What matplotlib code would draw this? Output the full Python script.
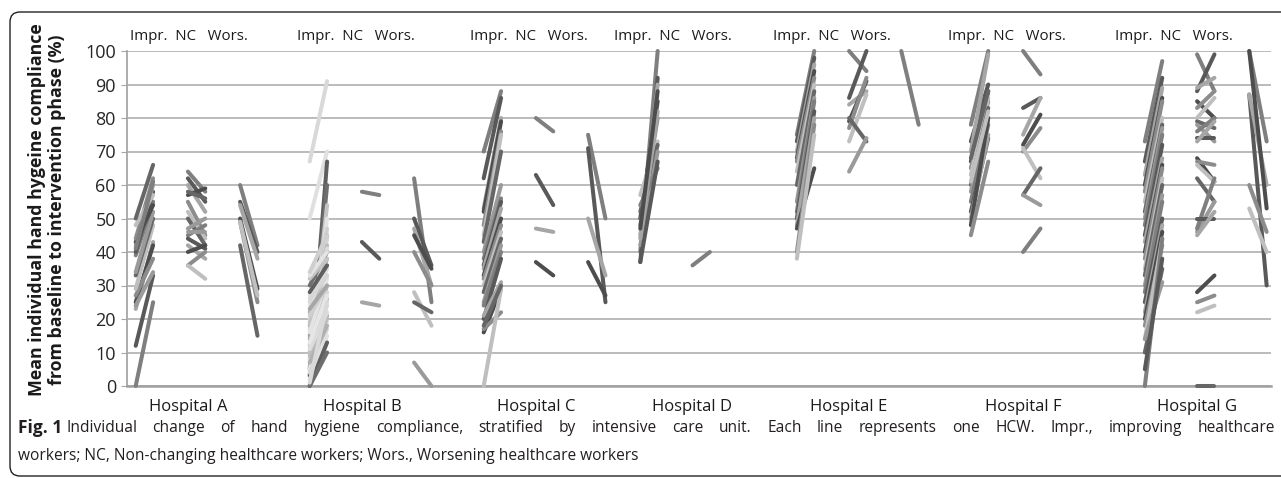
import matplotlib
matplotlib.use("Agg")
import matplotlib.pyplot as plt
from matplotlib.patches import FancyBboxPatch
from matplotlib.transforms import IdentityTransform

plt.rcParams['font.family'] = ['Open Sans', 'DejaVu Sans']

# hospitals and groups
hospitals = ['Hospital A', 'Hospital B', 'Hospital C', 'Hospital D',
             'Hospital E', 'Hospital F', 'Hospital G']
group_names = ['Impr.', 'NC', 'Wors.']

# (baseline, intervention) compliance per HCW
A_impr = [(0, 25), (12, 33), (23, 43), (25, 42), (27, 38), (29, 48), (33, 50), (34, 52),
          (39, 55), (40, 58), (42, 60), (43, 54), (44, 62), (48, 57), (50, 66), (24, 34), (41, 61)]
A_nc = [(64, 58), (62, 55), (60, 52), (57, 59), (55, 45), (52, 44), (50, 42), (47, 50),
        (45, 48), (44, 41), (42, 38), (40, 42), (36, 40), (36, 32), (58, 56), (46, 46)]
A_wors = [(60, 42), (55, 40), (54, 38), (50, 29), (49, 25), (49, 27), (42, 15)]

B_impr = [(67, 91), (50, 70), (3, 67), (5, 60), (8, 54), (10, 50), (12, 47), (15, 45),
          (17, 44), (18, 42), (20, 41), (22, 38), (24, 36), (25, 35), (27, 35), (28, 36),
          (30, 40), (32, 38), (33, 40), (34, 45), (14, 30), (12, 28), (10, 26), (8, 24),
          (6, 21), (5, 19), (4, 17), (2, 15), (0, 13), (0, 10), (19, 33), (16, 32),
          (21, 30), (23, 30), (26, 33), (9, 20), (11, 22), (7, 18), (13, 27), (1, 25)]
B_nc = [(58, 57), (43, 38), (25, 24)]
B_wors = [(62, 25), (50, 36), (47, 30), (45, 35), (40, 30), (28, 18), (25, 22), (7, 0)]

C_impr = [(70, 88), (62, 86), (53, 80), (52, 79), (48, 76), (45, 75), (43, 70), (40, 60),
          (38, 56), (36, 55), (35, 53), (33, 50), (32, 48), (30, 46), (28, 44), (25, 42),
          (24, 40), (20, 38), (21, 31), (16, 29), (17, 22), (0, 29), (18, 30)]
C_nc = [(80, 76), (63, 54), (47, 46), (37, 33)]
C_wors = [(75, 50), (71, 25), (50, 33), (37, 27)]

D_impr = [(40, 100), (37, 92), (45, 90), (50, 85), (48, 80), (57, 73), (52, 72), (42, 70),
          (54, 65), (37, 67), (44, 82), (47, 88)]
D_nc = [(36, 40)]
D_wors = []

E_impr = [(75, 100), (73, 98), (70, 96), (68, 94), (67, 92), (64, 90), (60, 88), (55, 86),
          (52, 85), (50, 82), (48, 80), (47, 65), (40, 78), (38, 75)]
E_nc = [(100, 94), (86, 100), (84, 88), (79, 91), (77, 92), (73, 87), (80, 73), (64, 74)]
E_wors = [(100, 78)]

F_impr = [(78, 100), (73, 90), (70, 99), (67, 88), (65, 85), (63, 86), (60, 83), (58, 80),
          (55, 78), (52, 74), (50, 75), (48, 80), (45, 67), (61, 82), (68, 88)]
F_nc = [(100, 93), (83, 86), (75, 86), (72, 81), (70, 77), (71, 62), (57, 65), (57, 54), (40, 47)]
F_wors = []

G_impr = [(73, 97), (67, 92), (63, 89), (60, 86), (58, 85), (55, 80), (52, 78), (50, 77),
          (48, 75), (45, 72), (43, 68), (40, 66), (38, 65), (35, 62), (33, 60), (30, 57),
          (28, 55), (25, 50), (22, 48), (20, 46), (18, 42), (14, 44), (10, 35), (14, 31),
          (0, 44), (5, 38)]
G_nc = [(99, 88), (88, 99), (89, 92), (85, 80), (83, 88), (80, 86), (79, 77), (78, 73),
        (76, 80), (74, 74), (73, 79), (68, 61), (67, 66), (66, 61), (62, 55), (46, 55),
        (47, 62), (50, 50), (45, 52), (28, 33), (25, 27), (22, 24), (0, 0)]
G_wors = [(100, 73), (87, 30), (87, 60), (100, 53), (60, 46), (53, 40)]

data = [[A_impr, A_nc, A_wors], [B_impr, B_nc, B_wors], [C_impr, C_nc, C_wors],
        [D_impr, D_nc, D_wors], [E_impr, E_nc, E_wors], [F_impr, F_nc, F_wors],
        [G_impr, G_nc, G_wors]]

caption1 = ('Individual change of hand hygiene compliance, stratified by intensive care unit. '
            'Each line represents one HCW. Impr., improving healthcare')
caption2 = 'workers; NC, Non-changing healthcare workers; Wors., Worsening healthcare workers'

# category slot where each hospital starts, and where its header text begins
hosp_x = [0, 10, 20, 29, 38, 48, 58]
header_x = [-0.33, 9.25, 19.2, 27.5, 36.6, 46.7, 56.3]

grays = ['#7f7f7f', '#595959', '#a6a6a6', '#4d4d4d', '#8c8c8c', '#bfbfbf', '#666666', '#9a9a9a']
light_grays = ['#d9d9d9', '#e0e0e0', '#5f5f5f', '#6e6e6e', '#c4c4c4', '#e3e3e3', '#cfcfcf',
               '#a6a6a6', '#d6d6d6', '#bdbdbd', '#dcdcdc', '#b0b0b0', '#e6e6e6']

W, H = 1281, 478
fig = plt.figure(figsize=(W / 100, H / 100), dpi=100)
ax = fig.add_axes([127 / W, 1 - 386 / H, (1271 - 127) / W, (386 - 51) / H])

for i, hosp in enumerate(data):
    for g, pairs in enumerate(hosp):
        x0 = hosp_x[i] + 3 * g
        pal = light_grays if (i == 1 and g == 0) else grays
        for k, (b, v) in enumerate(pairs):
            ax.plot([x0, x0 + 1], [b, v], color=pal[k % len(pal)], lw=2.9,
                    solid_capstyle='round', clip_on=False, zorder=3)

ax.set_xlim(-0.5, 65.25)
ax.set_ylim(0, 100)
ax.set_yticks(range(0, 101, 10))
ax.set_xticks([])
ax.tick_params(axis='y', length=4, color='#a6a6a6', labelsize=13, labelcolor='#262626', pad=4)
ax.yaxis.grid(True, color='#b5b5b5', lw=1.3)
ax.set_axisbelow(True)
for s in ['top', 'right']:
    ax.spines[s].set_visible(False)
ax.spines['left'].set_color('#a6a6a6')
ax.spines['bottom'].set_color('#a0a0a0')
ax.spines['left'].set_linewidth(1.3)
ax.spines['bottom'].set_linewidth(1.8)

for i, name in enumerate(hospitals):
    ax.text(hosp_x[i] + 3, -6.3, name, ha='center', va='center', fontsize=12, color='#1a1a1a')
    ax.text(header_x[i], 104.3, 'Impr.  NC   Wors.', ha='left', va='center', fontsize=10.8,
            color='#1a1a1a')

fig.text(47 / W, 1 - 210 / H,
         'Mean individual hand hygeine compliance\nfrom baseline to intervention phase (%)',
         rotation=90, ha='center', va='center', fontsize=12.8, fontweight='bold',
         color='#1a1a1a', linespacing=1.15)

# caption: first line justified between two pixel edges
cap_size = 11.2
fig.text(18 / W, 1 - 428 / H, 'Fig. 1', fontsize=12.5, fontweight='bold', va='center',
         color='#231f20')
renderer = fig.canvas.get_renderer()
words = caption1.split()
arts = [fig.text(0, 1 - 428 / H, w, fontsize=cap_size, va='center', color='#231f20')
        for w in words]
widths = [a.get_window_extent(renderer).width for a in arts]
x_left, x_right = 66, 1275
gap = (x_right - x_left - sum(widths)) / (len(words) - 1)
x = x_left
for a, w in zip(arts, widths):
    a.set_x(x / W)
    x += w + gap
fig.text(18 / W, 1 - 456 / H, caption2, fontsize=cap_size, va='center', color='#231f20')

frame = FancyBboxPatch((10, 2), 1300, 464, boxstyle='round,pad=0,rounding_size=10',
                       transform=IdentityTransform(), fill=False, ec='#222222', lw=1.0)
fig.add_artist(frame)

fig.savefig('out.png', dpi=100)
